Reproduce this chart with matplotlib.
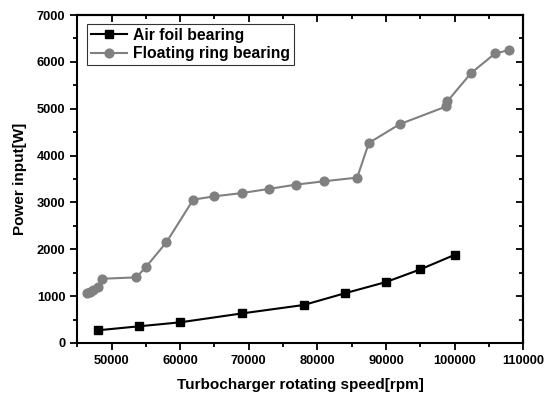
import numpy as np
import matplotlib.pyplot as plt

plt.rcParams['font.family'] = ['Liberation Sans', 'DejaVu Sans']
plt.rcParams['font.weight'] = 'bold'

# air foil bearing
rpm_air = [48000, 54000, 60000, 69000, 78000, 84000, 90000, 95000, 100000]
power_air = [270, 355, 440, 630, 810, 1060, 1300, 1570, 1880]

# floating ring bearing
rpm_ring = [46400, 46800, 47300, 48000, 48600, 53600, 55000, 58000, 61900,
            65000, 69000, 73000, 76900, 80900, 85800, 87500, 92000, 98800,
            98950, 102400, 105900, 107900]
power_ring = [1070, 1080, 1130, 1200, 1370, 1400, 1620, 2150, 3060,
              3130, 3200, 3290, 3380, 3450, 3530, 4270, 4670, 5050,
              5160, 5760, 6180, 6250]

fig = plt.figure(figsize=(5.56, 3.96), dpi=100)
ax = fig.add_axes([0.139, 0.134, 0.802, 0.828])

ax.plot(rpm_air, power_air, color='black', lw=1.5, marker='s', ms=5.5,
        label='Air foil bearing')
ax.plot(rpm_ring, power_ring, color='#808080', lw=1.5, marker='o', ms=6.3,
        label='Floating ring bearing')

ax.set_xlim(45000, 110000)
ax.set_ylim(0, 7000)
ax.set_xticks(np.arange(50000, 110001, 10000))
ax.set_xticks(np.arange(45000, 110001, 5000), minor=True)
ax.set_yticks(np.arange(0, 7001, 1000))
ax.set_yticks(np.arange(0, 7001, 500), minor=True)
ax.tick_params(which='major', direction='out', length=5, width=1.3, labelsize=9.3)
ax.tick_params(which='minor', direction='out', length=3, width=1.3)

# mirrored ticks on top and right, pointing inward
top = ax.secondary_xaxis('top')
top.set_xticks(np.arange(50000, 110001, 10000))
top.set_xticks(np.arange(45000, 110001, 5000), minor=True)
top.tick_params(which='major', direction='in', length=5, width=1.3, labeltop=False)
top.tick_params(which='minor', direction='in', length=3, width=1.3)
right = ax.secondary_yaxis('right')
right.set_yticks(np.arange(0, 7001, 1000))
right.set_yticks(np.arange(0, 7001, 500), minor=True)
right.tick_params(which='major', direction='in', length=5, width=1.3, labelright=False)
right.tick_params(which='minor', direction='in', length=3, width=1.3)

for s in list(ax.spines.values()) + [top.spines['top'], right.spines['right']]:
    s.set_linewidth(1.5)

ax.set_xlabel('Turbocharger rotating speed[rpm]', fontsize=11, fontweight='bold', labelpad=8)
ax.set_ylabel('Power input[W]', fontsize=11, fontweight='bold', labelpad=7)

leg = ax.legend(loc='upper left', bbox_to_anchor=(0.022, 0.973), borderaxespad=0,
                fontsize=11.3, frameon=True, fancybox=False, edgecolor='black',
                handlelength=2.3, borderpad=0.25, labelspacing=0.22, handletextpad=0.4)
leg.get_frame().set_linewidth(0.8)
for t in leg.get_texts():
    t.set_fontweight('bold')

fig.savefig('out.png', dpi=100)
